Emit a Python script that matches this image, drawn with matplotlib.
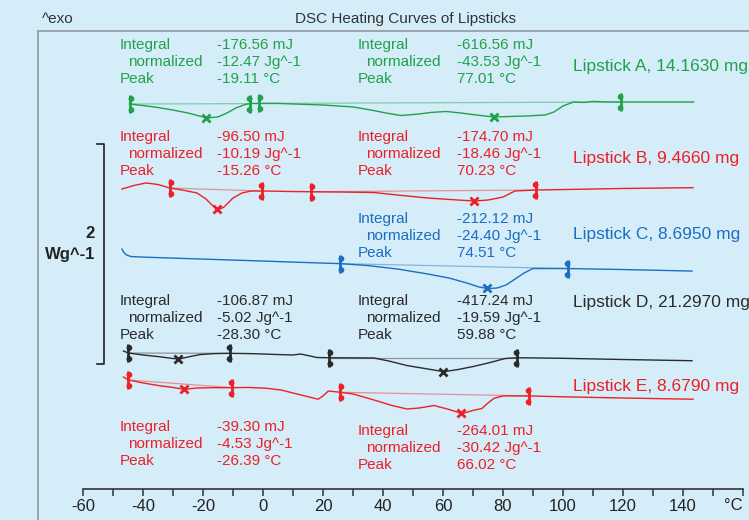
import numpy as np
import matplotlib
matplotlib.use("Agg")
import matplotlib.pyplot as plt
from matplotlib.path import Path

plt.rcParams['font.family'] = ['Liberation Sans', 'DejaVu Sans']

# temperature (°C) and heat flow (W/g, relative to the start of each curve)
t_a = [-44.5, -40, -35, -30, -25, -20, -18.5, -15, -12, -9, -6, -4, -1, 5, 10, 20, 30, 36, 41, 46,
       52, 56, 61, 66, 71, 77, 82, 88, 94, 97, 100, 103.5, 107, 110, 115, 120, 130, 143.5]
hf_a = [0.000, -0.014, -0.032, -0.055, -0.082, -0.118, -0.127, -0.118, -0.082, -0.036, -0.005, 0.005,
        0.005, 0.005, 0.000, -0.009, -0.027, -0.055, -0.082, -0.105, -0.091, -0.077, -0.068, -0.082,
        -0.100, -0.118, -0.114, -0.109, -0.100, -0.073, -0.018, 0.018, 0.014, 0.023, 0.018, 0.018,
        0.018, 0.018]

t_b = [-47, -43, -39, -35, -31, -27, -22, -19, -17, -15, -13, -10, -7, -4, 0, 10, 16, 25, 37, 45,
       55, 65, 70.5, 75, 80, 84, 87, 91, 100, 120, 143.3]
hf_b = [0.000, 0.032, 0.055, 0.041, 0.009, -0.009, -0.036, -0.091, -0.145, -0.191, -0.164, -0.082,
        -0.036, -0.018, -0.018, -0.023, -0.025, -0.027, -0.032, -0.055, -0.082, -0.100, -0.109,
        -0.100, -0.073, -0.018, -0.014, -0.009, -0.005, 0.005, 0.012]

t_c = [-47, -46.5, -45.5, -44, -40, -20, 0, 15, 25.5, 35, 45, 55, 62, 68, 72, 75, 78, 81, 84, 87,
       90, 95, 101.5, 120, 143]
hf_c = [0.068, 0.041, 0.014, 0.000, -0.005, -0.023, -0.041, -0.055, -0.064, -0.082, -0.114, -0.159,
        -0.195, -0.241, -0.277, -0.291, -0.286, -0.259, -0.205, -0.150, -0.109, -0.109, -0.109,
        -0.118, -0.132]

t_d = [-46.5, -44.9, -40, -35, -30, -27.9, -25, -21, -16, -11, -5, 0, 5, 10, 12.5, 15, 18, 22, 30,
       37, 42, 48, 54, 60.3, 65, 70, 75, 80.7, 84.5, 100, 120, 143]
hf_d = [0.018, 0.000, -0.018, -0.032, -0.050, -0.055, -0.036, -0.014, -0.005, -0.003, -0.005, -0.009,
        -0.014, -0.018, -0.009, -0.023, -0.041, -0.043, -0.044, -0.045, -0.073, -0.114, -0.141,
        -0.170, -0.150, -0.123, -0.091, -0.050, -0.043, -0.048, -0.059, -0.070]

t_e = [-46.5, -44.9, -40, -35, -30, -26.2, -22, -17, -10.2, -5, 1, 6, 12, 16, 18.4, 20, 21.8, 25.7,
       30, 37, 43, 48, 52, 57, 62, 66.4, 70, 73, 75, 77, 80, 88.7, 100, 120, 143.3]
hf_e = [0.027, 0.000, -0.027, -0.050, -0.068, -0.085, -0.073, -0.070, -0.070, -0.068, -0.075, -0.091,
        -0.132, -0.159, -0.175, -0.145, -0.100, -0.112, -0.127, -0.182, -0.232, -0.264, -0.255,
        -0.232, -0.268, -0.305, -0.277, -0.259, -0.209, -0.167, -0.145, -0.145, -0.153, -0.164,
        -0.175]

names = ["Lipstick A, 14.1630 mg", "Lipstick B, 9.4660 mg", "Lipstick C, 8.6950 mg",
         "Lipstick D, 21.2970 mg", "Lipstick E, 8.6790 mg"]
colors = ["#1fa24a", "#ec2027", "#1b6ec2", "#2b2b2b", "#ec2027"]
offsets = [3.782, 3.009, 2.395, 1.518, 1.273]   # vertical stacking, W/g

# integration limits and peaks (°C)
limits = [[-44.5, -4.4, -1.5, 119.3], [-31, -0.4, 16, 91], [25.5, 101.5],
          [-44.9, -11, 22, 84.5], [-44.9, -10.2, 25.7, 88.7]]
peaks = [[-19.11, 77.01], [-15.26, 70.23], [74.51], [-28.30, 59.88], [-26.39, 66.02]]
integrals = [["-176.56", "-616.56"], ["-96.50", "-174.70"], ["-212.12"],
             ["-106.87", "-417.24"], ["-39.30", "-264.01"]]
normalized = [["-12.47", "-43.53"], ["-10.19", "-18.46"], ["-24.40"],
              ["-5.02", "-19.59"], ["-4.53", "-30.42"]]

curves = [(t_a, hf_a), (t_b, hf_b), (t_c, hf_c), (t_d, hf_d), (t_e, hf_e)]

W, H = 749, 520
bg = "#d5edf9"
fig = plt.figure(figsize=(W / 100, H / 100), dpi=100, facecolor=bg)
ax = fig.add_axes([38 / W, 0, 1 - 38 / W, 489 / H], facecolor=bg)
ax.set_xlim(-75, 162)
ax.set_ylim(0, 489 / 110)


def limit_marker(side):
    # thick bar with small blobs near both ends, blobs bulging to one side
    s = 0.1 * side
    return Path.make_compound_path(
        Path([(0, -1), (0, 1)], [Path.MOVETO, Path.LINETO]),
        Path.circle((s, 0.62), 0.17),
        Path.circle((s, -0.62), 0.17),
    )


for (t, hf), off, col, lims, pks in zip(curves, offsets, colors, limits, peaks):
    t = np.array(t)
    y = off + np.array(hf)
    ax.plot(t, y, color=col, lw=1.0, zorder=3)
    # baselines between pairs of limits
    for i in range(0, len(lims), 2):
        bx = [lims[i], lims[i + 1]]
        ax.plot(bx, np.interp(bx, t, y), color=col, lw=0.9, alpha=0.45, zorder=2)
    for i, lx in enumerate(lims):
        side = 1 if i % 2 == 0 else -1
        ax.plot([lx], [np.interp(lx, t, y)], marker=limit_marker(side), ms=13, mew=2.0,
                color=col, mfc=col, ls="none", zorder=4)
    ax.plot(pks, np.interp(pks, t, y), marker="x", ms=5.5, mew=2, color=col, ls="none", zorder=4)

# scale bar: 2 W/g
ax.plot([-55.3, -53, -53, -55.3], [1.418 + 2, 1.418 + 2, 1.418, 1.418], color="#222222", lw=1.2)

ax.spines["right"].set_visible(False)
for s in ["left", "top"]:
    ax.spines[s].set_color("#9a9fa3")
    ax.spines[s].set_linewidth(1.3)
ax.spines["bottom"].set_position(("data", 31 / 110))
ax.spines["bottom"].set_bounds(-60, 160)
ax.spines["bottom"].set_color("#333333")
ax.spines["bottom"].set_linewidth(1.2)
ax.set_yticks([])
ax.set_xticks(np.arange(-60, 161, 20))
ax.set_xticks(np.arange(-50, 160, 20), minor=True)
ax.set_xticklabels([str(v) for v in range(-60, 141, 20)] + [""])
ax.tick_params(axis="x", which="both", direction="out", length=5, width=1.1, color="#333333",
               labelsize=12, labelcolor="#222222", pad=2)


def txt(px, py, s, **kw):
    fig.text(px / W, 1 - py / H, s, va="center", **kw)


txt(733, 505, "°C", fontsize=12, color="#222222", ha="center")
txt(405, 19, "DSC Heating Curves of Lipsticks", fontsize=11, color="#333333", ha="center")
txt(42, 19, "^exo", fontsize=11, color="#333333")
txt(95, 233, "2", fontsize=12, color="#222222", ha="right", fontweight="bold")
txt(95, 255, "Wg^-1", fontsize=12, color="#222222", ha="right", fontweight="bold")

# annotation blocks: (x of label column, x of value column, row y centres)
blocks = [
    [(120, 217, 45), (358, 457, 45)],
    [(120, 217, 137), (358, 457, 137)],
    [(358, 457, 219)],
    [(120, 217, 301), (358, 457, 301)],
    [(120, 217, 427), (358, 457, 431)],
]
label_y = [67, 158, 234, 302, 386]

for k in range(5):
    col = colors[k]
    for j, (lx, vx, y0) in enumerate(blocks[k]):
        txt(lx, y0, "Integral", fontsize=11, color=col)
        txt(lx + 8, y0 + 17, "normalized", fontsize=11, color=col)
        txt(lx, y0 + 34, "Peak", fontsize=11, color=col)
        txt(vx, y0, integrals[k][j] + " mJ", fontsize=11, color=col)
        txt(vx, y0 + 17, normalized[k][j] + " Jg^-1", fontsize=11, color=col)
        txt(vx, y0 + 34, "%.2f °C" % peaks[k][j], fontsize=11, color=col)
    txt(573, label_y[k], names[k], fontsize=12.5, color=col)

fig.savefig("out.png", dpi=100, facecolor=bg)
